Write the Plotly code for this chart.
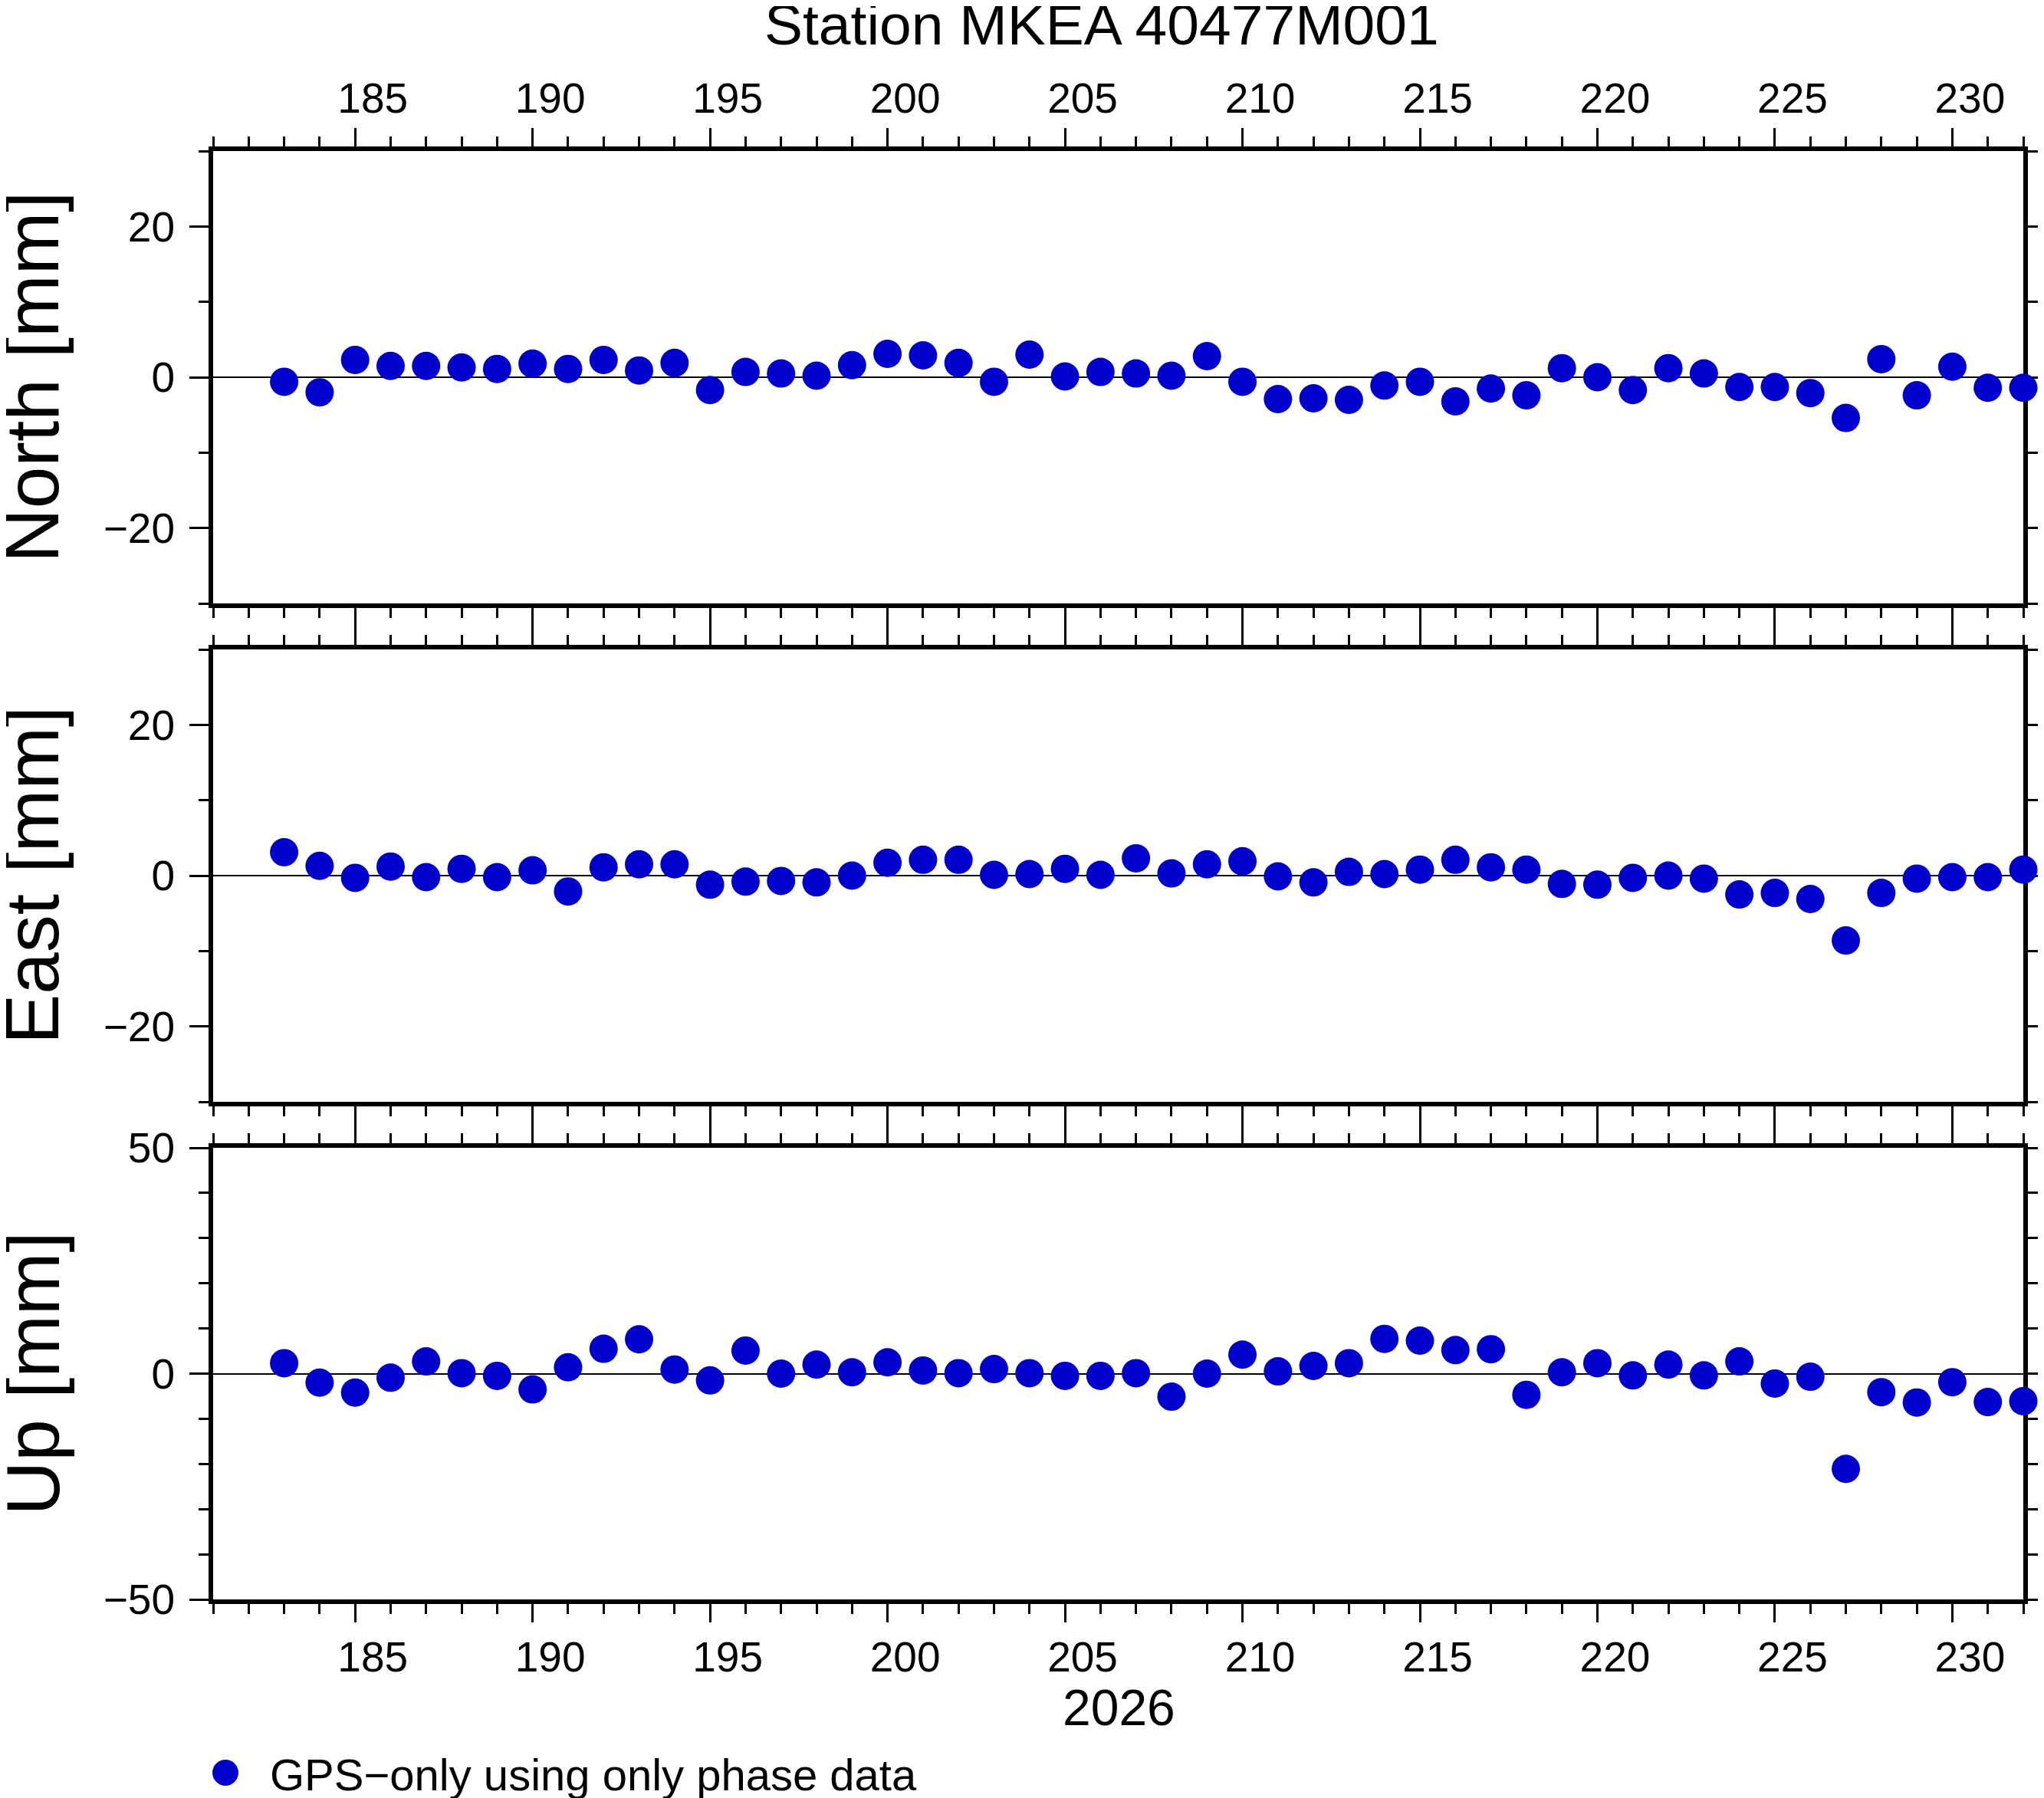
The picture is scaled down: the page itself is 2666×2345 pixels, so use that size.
import plotly.graph_objects as go

# day of year 2026
days = list(range(183, 233))

north = [-0.6, -2.0, 2.3, 1.5, 1.5, 1.3, 1.1, 1.8, 1.1, 2.3,
         0.9, 1.9, -1.7, 0.7, 0.5, 0.2, 1.6, 3.1, 2.9, 1.9,
         -0.6, 3.0, 0.1, 0.7, 0.5, 0.2, 2.8, -0.6, -2.9, -2.8,
         -3.0, -1.1, -0.6, -3.2, -1.5, -2.4, 1.2, 0.0, -1.7, 1.2,
         0.5, -1.3, -1.3, -2.1, -5.4, 2.4, -2.4, 1.4, -1.4, -1.4]

east = [3.1, 1.3, -0.3, 1.2, -0.2, 0.9, -0.2, 0.7, -2.1, 1.1,
        1.5, 1.5, -1.2, -0.8, -0.7, -0.9, 0.0, 1.7, 2.1, 2.1,
        0.1, 0.2, 0.9, 0.1, 2.3, 0.3, 1.5, 1.9, -0.1, -0.9,
        0.5, 0.2, 0.8, 2.1, 1.1, 0.8, -1.1, -1.2, -0.3, 0.0,
        -0.4, -2.5, -2.3, -3.1, -8.6, -2.3, -0.4, -0.2, -0.2, 0.8]

up = [2.3, -2.0, -4.2, -0.9, 2.7, 0.1, -0.5, -3.5, 1.4, 5.5,
      7.6, 0.9, -1.5, 5.1, 0.0, 2.0, 0.3, 2.5, 0.7, 0.1,
      1.0, 0.1, -0.5, -0.5, 0.1, -5.1, 0.0, 4.2, 0.5, 1.7,
      2.3, 7.7, 7.3, 5.2, 5.4, -4.7, 0.3, 2.3, -0.4, 2.0,
      -0.4, 2.7, -2.2, -0.7, -21.1, -4.1, -6.4, -1.9, -6.3, -6.1]

panel_titles = ["North [mm]", "East [mm]", "Up [mm]"]
y_ranges = [[-30, 30], [-30, 30], [-50, 50]]
y_ticks = [[-20, 0, 20], [-20, 0, 20], [-50, 0, 50]]
x_ticks = list(range(185, 231, 5))
x_range = [181, 232]

W, H = 2666, 2345
OFF = 8  # page body margin
FONT = "Liberation Sans, Arial, Helvetica, sans-serif"
BLUE = "#0000cc"


def px(x):
    return (x - OFF) / W


def py(y):
    return 1 - (y - OFF) / H


# panel frames in page pixels (top, bottom)
x_left, x_right = 278, 2639
panels_px = [(197, 787), (847, 1437), (1497, 2086)]

fig = go.Figure()

for i, vals in enumerate([north, east, up]):
    n = "" if i == 0 else str(i + 1)
    fig.add_trace(go.Scatter(
        x=days, y=vals, mode="markers",
        marker=dict(size=37, color=BLUE, line=dict(width=0)),
        xaxis="x" + n, yaxis="y" + n,
        cliponaxis=False, showlegend=False,
        hovertemplate="Day %{x}: %{y} mm<extra></extra>",
    ))

layout = dict(
    template="none",
    width=W, height=H, autosize=False,
    margin=dict(l=0, r=0, t=0, b=0, pad=0),
    paper_bgcolor="white", plot_bgcolor="white",
    font=dict(family=FONT, size=55, color="black"),
)

for i, (top, bot) in enumerate(panels_px):
    n = "" if i == 0 else str(i + 1)
    xa = dict(
        domain=[px(x_left), px(x_right)], range=x_range,
        anchor="y" + n, automargin=False,
        tickmode="array", tickvals=x_ticks, ticktext=[str(t) for t in x_ticks],
        ticks="outside", ticklen=24, tickwidth=3, tickcolor="black",
        minor=dict(dtick=1, tick0=181, ticks="outside", ticklen=13,
                   tickwidth=3, tickcolor="black", showgrid=False),
        showline=True, linewidth=6, linecolor="black", mirror="ticks",
        showgrid=False, zeroline=False,
        ticklabelshift=23, ticklabelstandoff=-2,
        tickfont=dict(size=55),
        layer="below traces",
        showticklabels=(i != 1),
        side="top" if i == 0 else "bottom",
    )
    ya = dict(
        domain=[py(bot), py(top)], range=y_ranges[i],
        anchor="x" + n, automargin=False,
        tickmode="array", tickvals=y_ticks[i],
        ticks="outside", ticklen=25, tickwidth=3, tickcolor="black",
        minor=dict(dtick=10, tick0=0, ticks="outside", ticklen=13,
                   tickwidth=3, tickcolor="black", showgrid=False),
        showline=True, linewidth=6, linecolor="black", mirror="ticks",
        showgrid=False,
        zeroline=True, zerolinecolor="black", zerolinewidth=1.5,
        ticklabelstandoff=8,
        tickfont=dict(size=55),
        layer="below traces",
    )
    layout["xaxis" + n] = xa
    layout["yaxis" + n] = ya

annotations = [
    dict(text="Station MKEA 40477M001", x=px(1437), y=py(32),
         xref="paper", yref="paper", xanchor="center", yanchor="middle",
         showarrow=False, font=dict(size=75)),
    dict(text="2026", x=px(1459), y=py(2227),
         xref="paper", yref="paper", xanchor="center", yanchor="middle",
         showarrow=False, font=dict(size=66)),
    dict(text="GPS\u2212only using only phase data", x=px(350), y=py(2314),
         xref="paper", yref="paper", xanchor="left", yanchor="middle",
         showarrow=False, font=dict(size=58)),
]
for title, (top, bot) in zip(panel_titles, panels_px):
    annotations.append(dict(
        text=title, x=px(42), y=py((top + bot) / 2),
        xref="paper", yref="paper", xanchor="center", yanchor="middle",
        textangle=-90, showarrow=False, font=dict(size=98),
    ))
layout["annotations"] = annotations

# legend symbol
layout["shapes"] = [dict(
    type="circle", xref="paper", yref="paper",
    x0=px(294 - 17), x1=px(294 + 17),
    y0=py(2312 + 17), y1=py(2312 - 17),
    fillcolor=BLUE, line=dict(width=0),
)]

fig.update_layout(**layout)
fig.write_html("out.html")
